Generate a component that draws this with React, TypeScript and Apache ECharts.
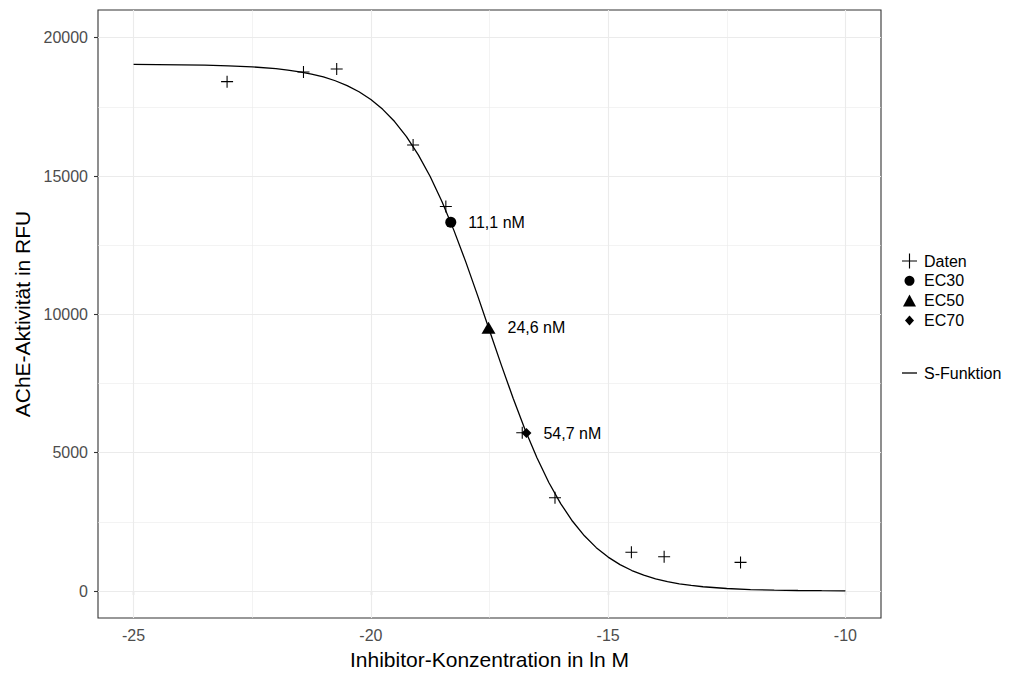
import React, { useEffect, useRef } from 'react';
import * as echarts from 'echarts';

// Measured data: inhibitor concentration (ln M) vs. AChE activity (RFU)
const concLn = [-23.03, -21.42, -20.72, -19.11, -18.42, -16.81, -16.12, -14.51, -13.82, -12.21];
const rfu = [18410, 18760, 18870, 16120, 13900, 5720, 3370, 1400, 1240, 1035];

// Fitted sigmoid, sampled along the concentration axis
const curveX = [
  -25, -24.5, -24, -23.5, -23, -22.5, -22, -21.75, -21.5, -21.25, -21, -20.75, -20.5, -20.25, -20,
  -19.75, -19.5, -19.25, -19, -18.75, -18.5, -18.25, -18, -17.75, -17.5, -17.25, -17, -16.75, -16.5,
  -16.25, -16, -15.75, -15.5, -15.25, -15, -14.75, -14.5, -14.25, -14, -13.75, -13.5, -13.25, -13,
  -12.5, -12, -11.5, -11, -10.5, -10,
];
const curveY = [
  19033, 19029, 19020, 19007, 18984, 18944, 18878, 18829, 18766, 18684, 18579, 18443, 18269, 18046, 17765,
  17409, 16968, 16424, 15766, 14982, 14070, 13035, 11896, 10676, 9419, 8165, 6957, 5830, 4815,
  3923, 3161, 2521, 1995, 1568, 1226, 954, 741, 573, 442, 341, 262, 202, 155,
  92, 54, 32, 19, 11, 6,
];

// Effective concentrations (nM) and the activity level at each
const ecNames = ['EC30', 'EC50', 'EC70'];
const ecNanoMolar = [11.1, 24.6, 54.7];
const ecRfu = [13330, 9520, 5710];

// Axis ticks
const xTicks = [-25, -20, -15, -10];
const xMinorTicks = [-22.5, -17.5, -12.5];
const yTicks = [0, 5000, 10000, 15000, 20000];
const yMinorTicks = [2500, 7500, 12500, 17500];

const FONT = '"Liberation Sans", Arial, Helvetica, sans-serif';
const PLUS = 'path://M4.55,0H5.45V4.55H10V5.45H5.45V10H4.55V5.45H0V4.55H4.55Z';
const PLUS_THIN = 'path://M4.62,0H5.38V4.62H10V5.38H5.38V10H4.62V5.38H0V4.62H4.62Z';
const ecSymbols = ['circle', 'triangle', 'diamond'];
const ecSizes: (number | number[])[] = [11, [14, 12], [10, 10]];

// Legend key geometry for each entry (icon width, icon height, icon name)
const legendKeys = [
  { name: 'Daten', icon: PLUS_THIN, w: 15, h: 15 },
  { name: 'EC30', icon: 'circle', w: 10, h: 10 },
  { name: 'EC50', icon: 'triangle', w: 13, h: 12 },
  { name: 'EC70', icon: 'diamond', w: 9, h: 10 },
];

const gridMajor = { color: '#EBEBEB', width: 1.1, type: 'solid' as const };
const gridMinor = { color: '#EBEBEB', width: 0.6, type: 'solid' as const };
const solidBlack = { color: '#000', opacity: 1 };

export default function App() {
  const ref = useRef<HTMLDivElement>(null);

  useEffect(() => {
    if (!ref.current) return;
    const chart = echarts.init(ref.current, undefined, { renderer: 'svg' });

    const keyCenterX = 909.5;
    const textStartX = 924;
    const legends: any[] = legendKeys.map((k, i) => {
      const cy = 261 + i * 19.8;
      return {
        data: [{ name: k.name, icon: k.icon }],
        orient: 'vertical',
        left: keyCenterX - k.w / 2,
        top: cy - Math.max(k.h, 16) / 2,
        padding: 0,
        itemWidth: k.w,
        itemHeight: k.h,
        selectedMode: false,
        itemStyle: solidBlack,
        textStyle: {
          fontFamily: FONT,
          fontSize: 16,
          color: '#000',
          padding: [0, 0, 0, textStartX - (keyCenterX + k.w / 2 + 5)],
        },
      };
    });
    legends.push({
      data: [{ name: 'S-Funktion', icon: 'rect' }],
      orient: 'vertical',
      left: keyCenterX - 7.5,
      top: 373 - 8,
      padding: 0,
      itemWidth: 15,
      itemHeight: 1.3,
      selectedMode: false,
      itemStyle: solidBlack,
      textStyle: {
        fontFamily: FONT,
        fontSize: 16,
        color: '#000',
        padding: [0, 0, 0, textStartX - (keyCenterX + 7.5 + 5)],
      },
    });

    const ecSeries = ecNames.map((name, i) => ({
      name,
      type: 'scatter',
      z: 5,
      symbol: ecSymbols[i],
      symbolSize: ecSizes[i],
      itemStyle: solidBlack,
      data: [[Math.log(ecNanoMolar[i] * 1e-9), ecRfu[i]]],
      label: {
        show: true,
        position: 'right',
        distance: 12,
        fontFamily: FONT,
        fontSize: 16,
        color: '#000',
        opacity: 1,
        formatter: () => `${String(ecNanoMolar[i]).replace('.', ',')} nM`,
      },
    }));

    chart.setOption({
      animation: false,
      textStyle: { fontFamily: FONT },
      grid: {
        left: 98,
        right: 129,
        top: 10,
        bottom: 56,
        show: true,
        backgroundColor: '#FFFFFF',
        borderColor: '#333333',
        borderWidth: 1.1,
      },
      legend: legends,
      xAxis: {
        type: 'value',
        min: -25.75,
        max: -9.25,
        name: 'Inhibitor-Konzentration in ln M',
        nameLocation: 'middle',
        nameGap: 31,
        nameTextStyle: { fontFamily: FONT, fontSize: 21, color: '#000' },
        axisLine: { show: false },
        axisTick: { show: true, length: 4, customValues: xTicks, lineStyle: { color: '#333333', width: 1.1 } },
        axisLabel: {
          customValues: xTicks,
          color: '#4D4D4D',
          fontSize: 16,
          margin: 9,
          fontFamily: FONT,
          formatter: (v: number) => String(v),
        },
        splitLine: { show: false },
      },
      yAxis: {
        type: 'value',
        min: -975,
        max: 21000,
        name: 'AChE-Aktivität in RFU',
        nameLocation: 'middle',
        nameGap: 63,
        nameTextStyle: { fontFamily: FONT, fontSize: 21, color: '#000' },
        axisLine: { show: false },
        axisTick: { show: true, length: 4, customValues: yTicks, lineStyle: { color: '#333333', width: 1.1 } },
        axisLabel: {
          customValues: yTicks,
          color: '#4D4D4D',
          fontSize: 16,
          margin: 10,
          fontFamily: FONT,
          formatter: (v: number) => String(v),
        },
        splitLine: { show: false },
      },
      series: [
        {
          name: 'grid',
          type: 'line',
          data: [],
          silent: true,
          z: 1,
          markLine: {
            z: 1,
            silent: true,
            symbol: ['none', 'none'],
            label: { show: false },
            emphasis: { disabled: true },
            data: [
              ...xMinorTicks.map((v) => ({ xAxis: v, lineStyle: gridMinor })),
              ...yMinorTicks.map((v) => ({ yAxis: v, lineStyle: gridMinor })),
              ...xTicks.map((v) => ({ xAxis: v, lineStyle: gridMajor })),
              ...yTicks.map((v) => ({ yAxis: v, lineStyle: gridMajor })),
            ],
          },
        },
        {
          name: 'S-Funktion',
          type: 'line',
          z: 3,
          showSymbol: false,
          smooth: false,
          itemStyle: solidBlack,
          lineStyle: { color: '#000', width: 1.3 },
          data: curveX.map((x, i) => [x, curveY[i]]),
        },
        {
          name: 'Daten',
          type: 'scatter',
          z: 4,
          symbol: PLUS,
          symbolSize: 12,
          itemStyle: solidBlack,
          data: concLn.map((x, i) => [x, rfu[i]]),
        },
        ...ecSeries,
      ],
    });

    return () => chart.dispose();
  }, []);

  return (
    <div
      ref={ref}
      style={{ position: 'fixed', left: 0, top: 0, width: 1010, height: 675, background: '#fff' }}
    />
  );
}
